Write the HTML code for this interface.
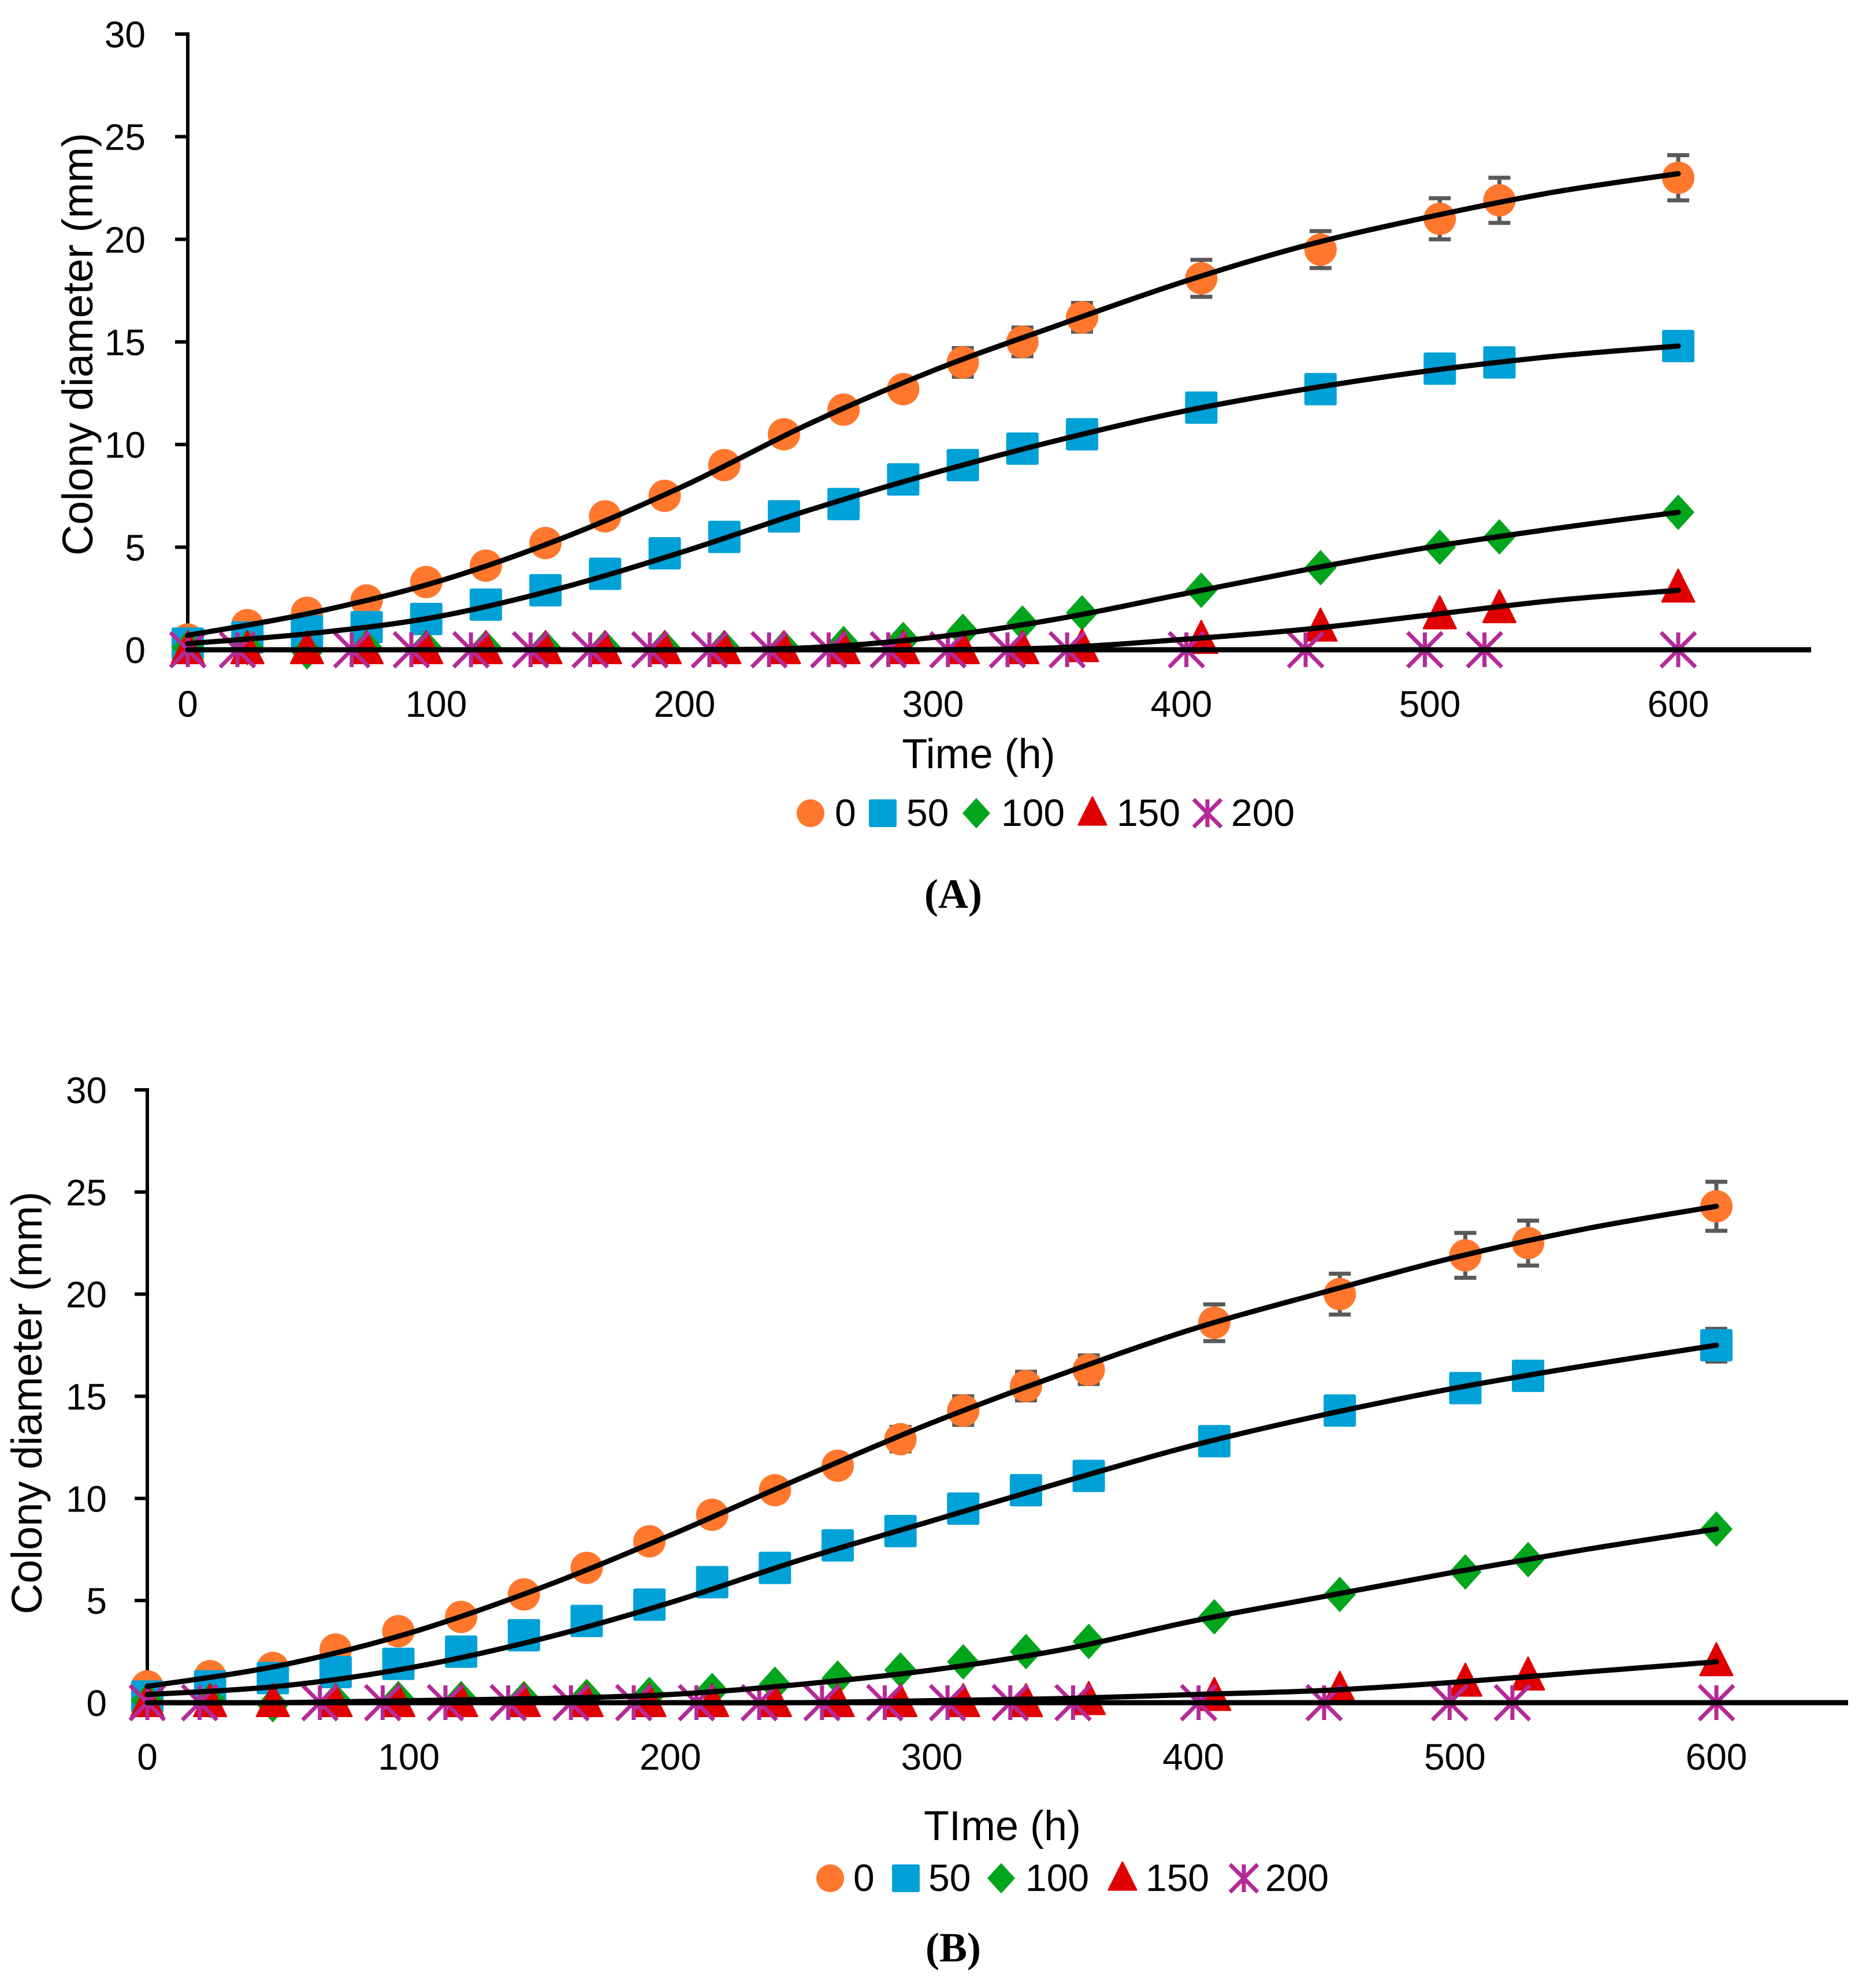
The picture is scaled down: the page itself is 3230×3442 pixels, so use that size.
<!DOCTYPE html>
<html><head><meta charset="utf-8"><style>
html,body{margin:0;padding:0;background:#fff}
svg{display:block}
text{font-family:"Liberation Sans",sans-serif;fill:#000}
</style></head><body>
<svg id="fig" width="3230" height="3442" viewBox="0 0 3230 3442" xmlns="http://www.w3.org/2000/svg">
<rect width="3230" height="3442" fill="#fff"/>
<g id="chartA"></g>
<g id="chartB"></g>
</svg>
<script>
// ---- shared data ----
const timesMain = [0,24,48,72,96,120,144,168,192,216,240,264,288,312,336,360,408,456,504,528,600];
const times200 = [0,20,66,90,114,138,162,186,210,234,258,282,306,330,354,402,450,498,522,600];
const fitTimes = [0,50,100,150,200,250,300,350,400,450,500,550,600];
const yTicks = [0,5,10,15,20,25,30];
const xTicks = [0,100,200,300,400,500,600];
const seriesNames = ["0","50","100","150","200"];

// ---- chart A ----
const a0 = [0.5,1.2,1.8,2.4,3.3,4.1,5.2,6.5,7.5,9.0,10.5,11.7,12.7,14.0,15.0,16.2,18.1,19.5,21.0,21.9,23.0];
const a50 = [0.3,0.6,0.9,1.1,1.5,2.2,2.9,3.7,4.7,5.5,6.5,7.1,8.3,9.0,9.8,10.5,11.8,12.7,13.7,14.0,14.8];
const a100 = [0.1,0.1,-0.1,0.1,0.1,0.1,0.1,0.1,0.1,0.1,0.1,0.3,0.5,0.9,1.3,1.8,2.9,4.0,5.0,5.5,6.7];
const a150 = [0,0,0,0,0,0,0,0,0,0,0,0,0,0,0,0.1,0.5,1.1,1.7,2.0,3.0];
const a200 = [0,0,0,0,0,0,0,0,0,0,0,0,0,0,0,0,0,0,0,0];
const a0err = [0,0,0,0,0,0,0,0,0,0,0,0,0.4,0.7,0.7,0.7,0.9,0.9,1.0,1.1,1.1];
const a50err = [0,0,0,0,0,0,0,0,0,0,0,0,0,0,0,0,0,0,0,0,0.6];
const aFit0 = [0.7,1.8,3.3,5.4,8.0,11.0,13.6,15.8,17.9,19.7,21.1,22.3,23.2];
const aFit50 = [0.3,0.8,1.6,3.0,4.8,6.8,8.6,10.2,11.6,12.7,13.6,14.3,14.8];
const aFit100 = [0,0,0,0,0,0.1,0.6,1.5,2.7,3.9,5.0,5.9,6.7];
const aFit150 = [0,0,0,0,0,0,0,0.1,0.5,1.0,1.7,2.4,2.9];

// ---- chart B ----
const b0 = [0.8,1.3,1.7,2.6,3.5,4.2,5.3,6.6,7.9,9.2,10.4,11.6,12.9,14.3,15.5,16.3,18.6,20.0,21.9,22.5,24.3];
const b50 = [0.3,0.8,1.2,1.5,1.9,2.5,3.3,4.0,4.8,5.9,6.6,7.7,8.4,9.5,10.4,11.1,12.8,14.3,15.4,16.0,17.5];
const b100 = [0.1,0.1,-0.1,0.1,0.2,0.2,0.2,0.3,0.4,0.6,0.9,1.2,1.6,2.0,2.5,3.0,4.2,5.3,6.4,7.0,8.5];
const b150 = [0,0,0,0,0,0,0,0,0,0,0,0,0,0,0,0.1,0.3,0.6,1.0,1.3,2.0];
const b200 = [0,0,0,0,0,0,0,0,0,0,0,0,0,0,0,0,0,0,0,0];
const b0err = [0,0,0,0,0,0,0,0,0,0,0,0,0.6,0.7,0.7,0.7,0.9,1.0,1.1,1.1,1.2];
const b50err = [0,0,0,0,0,0,0,0,0,0,0,0,0,0,0,0,0,0,0.6,0.6,0.8];
const bFit0 = [0.8,1.8,3.4,5.6,8.2,11.0,13.7,16.1,18.3,20.1,21.8,23.2,24.3];
const bFit50 = [0.4,0.8,1.7,3.1,4.9,7.0,8.9,10.8,12.6,14.1,15.4,16.5,17.5];
const bFit100 = [0,0,0.1,0.2,0.4,0.9,1.6,2.6,4.0,5.2,6.4,7.5,8.5];
const bFit150 = [0,0,0,0,0,0,0.1,0.2,0.4,0.6,1.0,1.5,2.0];

const NS = "http://www.w3.org/2000/svg";
const COLORS = {o:"#FE772D", b:"#00A1D7", g:"#02A51C", r:"#E00000", m:"#B52A99"};

function mk(parent, tag, attrs, txt){
  const e = document.createElementNS(NS, tag);
  for (const k in attrs) e.setAttribute(k, attrs[k]);
  if (txt !== undefined) e.textContent = txt;
  parent.appendChild(e);
  return e;
}

function marker(g, kind, cx, cy, s){
  let e;
  if (kind === "circle") e = mk(g,"ellipse",{cx:cx,cy:cy,rx:s*0.5,ry:s*0.5,fill:COLORS.o});
  else if (kind === "square") e = mk(g,"rect",{x:cx-s/2,y:cy-s/2,width:s,height:s,rx:3,fill:COLORS.b});
  else if (kind === "diamond") e = mk(g,"path",{d:`M${cx} ${cy-s*0.55}L${cx+s/2} ${cy}L${cx} ${cy+s*0.55}L${cx-s/2} ${cy}Z`,fill:COLORS.g});
  else if (kind === "triangle") e = mk(g,"path",{d:`M${cx} ${cy-s*0.58}L${cx+s/2} ${cy+s*0.42}L${cx-s/2} ${cy+s*0.42}Z`,fill:COLORS.r,"stroke":COLORS.r,"stroke-width":3,"stroke-linejoin":"round"});
  else {
    const h = s/2;
    e = mk(g,"path",{d:`M${cx-h} ${cy-h}L${cx+h} ${cy+h}M${cx+h} ${cy-h}L${cx-h} ${cy+h}M${cx} ${cy-h}L${cx} ${cy+h}`,stroke:COLORS.m,"stroke-width":7,fill:"none"});
  }
  return e;
}

function catmull(pts){
  let d = `M${pts[0][0]} ${pts[0][1]}`;
  for (let i=0;i<pts.length-1;i++){
    const p0=pts[Math.max(0,i-1)], p1=pts[i], p2=pts[i+1], p3=pts[Math.min(pts.length-1,i+2)];
    const c1=[p1[0]+(p2[0]-p0[0])/6, p1[1]+(p2[1]-p0[1])/6];
    const c2=[p2[0]-(p3[0]-p1[0])/6, p2[1]-(p3[1]-p1[1])/6];
    d += `C${c1[0]} ${c1[1]} ${c2[0]} ${c2[1]} ${p2[0]} ${p2[1]}`;
  }
  return d;
}

function drawChart(cfg){
  const g = document.getElementById(cfg.id);
  const X = t => cfg.x0 + (t/600)*(cfg.x600-cfg.x0);
  const Y = v => cfg.y0 - (v/30)*(cfg.y0-cfg.y30);

  const ya = mk(g,"line",{x1:cfg.x0,y1:cfg.y30-3,x2:cfg.x0,y2:cfg.y0,stroke:"#000","stroke-width":6});
  
  
  yTicks.forEach(v=>{
    mk(g,"line",{x1:cfg.x0-22,y1:Y(v),x2:cfg.x0,y2:Y(v),stroke:"#000","stroke-width":6});
    const t = mk(g,"text",{x:cfg.ylabX,y:Y(v)+23,"text-anchor":"end","font-size":64},String(v));
    
    
  });
  xTicks.forEach(v=>{
    const t = mk(g,"text",{x:X(v),y:cfg.y0+116,"text-anchor":"middle","font-size":64},String(v));
    
    
  });
  const xt = mk(g,"text",{x:cfg.xtX,y:cfg.y0+cfg.xtOff,"text-anchor":"middle","font-size":72},cfg.xTitle);
  
  
  const yt = mk(g,"text",{x:0,y:0,"text-anchor":"middle","font-size":74,transform:`translate(${cfg.ytX},${cfg.ytY}) rotate(-90)`},"Colony diameter (mm)");
  
  
  const pl = mk(g,"text",{x:1650,y:cfg.panelY,"text-anchor":"middle","font-size":72,"font-weight":"bold",style:'font-family:"Liberation Serif",serif'},cfg.panel);
  
  

  const kinds = ["circle","square","diamond","triangle","star"];
  const data = cfg.data;
  const tms = [timesMain,timesMain,timesMain,timesMain,times200];
  [[0,cfg.err0],[1,cfg.err50]].forEach(([si,err])=>{
    err.forEach((e,i)=>{
      if (e<=0) return;
      const x=X(tms[si][i]), v=data[si][i];
      const eb = mk(g,"path",{d:`M${x} ${Y(v+e)}L${x} ${Y(v-e)}M${x-19} ${Y(v+e)}L${x+19} ${Y(v+e)}M${x-19} ${Y(v-e)}L${x+19} ${Y(v-e)}`,stroke:"#595959","stroke-width":7,fill:"none"});
      
      
    });
  });
  data.forEach((arr,si)=>{
    arr.forEach((v,i)=>{
      const m = marker(g,kinds[si],X(tms[si][i]),Y(v),si===4?60:56);
      
      
    });
  });
  const xa = mk(g,"line",{x1:cfg.x0,y1:cfg.y0,x2:cfg.xEnd,y2:cfg.y0,stroke:"#000","stroke-width":9});
  
  
  cfg.fits.forEach((f,fi)=>{
    const pts = fitTimes.map((t,i)=>[X(t),Y(f[i])]);
    const c = mk(g,"path",{d:catmull(pts),stroke:"#000","stroke-width":9,fill:"none","stroke-linecap":"round"});
    
    
  });
  const lg = mk(g,"g",{});
  
  
  cfg.legend.forEach((L,i)=>{
    const m = marker(lg,kinds[i],L[0],cfg.legY-22,48);
    
    
    const t = mk(lg,"text",{x:L[1],y:cfg.legY,"font-size":66},seriesNames[i]);
    
    
  });
}

drawChart({id:"chartA",x0:325,x600:2905,xEnd:3135,y0:1125,y30:59,ylabX:252,
  xTitle:"Time (h)",xtX:1694,xtOff:205,ytX:160,ytY:596,panel:"(A)",panelY:1572,legY:1430,
  data:[a0,a50,a100,a150,a200],err0:a0err,err50:a50err,fits:[aFit0,aFit50,aFit100,aFit150],
  legend:[[1403,1445],[1528,1569],[1690,1733],[1891,1933],[2090,2131]]});
drawChart({id:"chartB",x0:255,x600:2971,xEnd:3199,y0:2948,y30:1887,ylabX:185,
  xTitle:"TIme (h)",xtX:1735,xtOff:238,ytX:72,ytY:2429,panel:"(B)",panelY:3396,legY:3274,
  data:[b0,b50,b100,b150,b200],err0:b0err,err50:b50err,fits:[bFit0,bFit50,bFit100,bFit150],
  legend:[[1437,1477],[1568,1607],[1733,1775],[1943,1983],[2153,2190]]});
</script>
</body></html>
